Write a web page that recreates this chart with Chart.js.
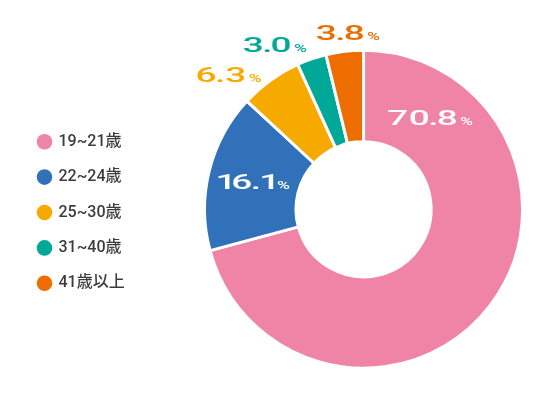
<!DOCTYPE html>
<html lang="ja">
<head>
<meta charset="utf-8">
<title>年齢構成</title>
<script src="https://cdn.jsdelivr.net/npm/chart.js@4/dist/chart.umd.min.js"></script>
<style>
  html, body { margin: 0; padding: 0; background: #fff; }
  #wrap { width: 560px; height: 420px; position: relative; }
</style>
</head>
<body>
<div id="wrap"><canvas id="age-chart"></canvas></div>
<script>
(function () {
  'use strict';

  var AGE_GROUPS = ['19~21歳', '22~24歳', '25~30歳', '31~40歳', '41歳以上'];
  var SHARES     = [70.8, 16.1, 6.3, 3.0, 3.8];

  var PALETTE = ['#f084a7', '#3171b9', '#f6aa00', '#00a997', '#ee6d00'];

  var NUM_FONT = '500 20px Roboto, sans-serif';
  var PCT_FONT = '500 11px Roboto, sans-serif';
  var NUM_SX = 1.85, PCT_SX = 1.6;

  // ink box of one glyph, already stretched
  function glyph(ctx, ch, sx) {
    var m = ctx.measureText(ch);
    return { ch: ch, left: m.actualBoundingBoxLeft, w: (m.actualBoundingBoxLeft + m.actualBoundingBoxRight) * sx };
  }

  // wide number + small "%" drawn centred on (cx, cy), glyphs spaced by ink
  function drawValue(ctx, num, cx, cy, color) {
    ctx.save();
    ctx.fillStyle = color;
    ctx.textAlign = 'left';
    ctx.textBaseline = 'alphabetic';

    ctx.font = NUM_FONT;
    var parts = [];
    var total = 0;
    num.split('').forEach(function (ch, i) {
      var g = glyph(ctx, ch, NUM_SX);
      if (i > 0) total += (ch === '.' || num[i - 1] === '.') ? 1 : 3;
      g.pos = total;
      total += g.w;
      parts.push(g);
    });
    ctx.font = PCT_FONT;
    var pct = glyph(ctx, '%', PCT_SX);
    total += 3;
    pct.pos = total;
    total += pct.w;

    var x0 = cx - total / 2;
    var base = cy + 7;

    ctx.font = NUM_FONT;
    parts.forEach(function (g) {
      ctx.save();
      ctx.translate(x0 + g.pos, base);
      ctx.scale(NUM_SX, 1);
      ctx.fillText(g.ch, g.left, 0);
      ctx.restore();
    });

    ctx.font = PCT_FONT;
    ctx.save();
    ctx.translate(x0 + pct.pos, base);
    ctx.scale(PCT_SX, 1);
    ctx.fillText('%', pct.left, 0);
    ctx.restore();

    ctx.restore();
  }

  var valueLabels = {
    id: 'valueLabels',
    afterDatasetsDraw: function (chart, args, opts) {
      var ctx = chart.ctx;
      var meta = chart.getDatasetMeta(0);
      meta.data.forEach(function (arc, i) {
        var p = arc.getProps(['x', 'y', 'startAngle', 'endAngle', 'innerRadius', 'outerRadius'], true);
        var v = SHARES[i];
        var inside = v >= 10;
        var ang, r;
        if (inside) {
          // big slice label sits near its start, others at the middle
          ang = v > 50 ? p.startAngle + Math.PI / 5 : (p.startAngle + p.endAngle) / 2;
          r = (p.innerRadius + p.outerRadius) / 2;
        } else {
          ang = (p.startAngle + p.endAngle) / 2;
          r = p.outerRadius + 24;
        }
        var nudge = opts.nudge[i] || [0, 0];
        var cx = p.x + Math.cos(ang) * r + nudge[0];
        var cy = p.y + Math.sin(ang) * r + nudge[1];
        drawValue(ctx, v.toFixed(1), cx, cy, inside ? '#ffffff' : PALETTE[i]);
      });
    }
  };

  // widen the legend column so the doughnut lands right of centre
  var legendWidth = {
    id: 'legendWidth',
    beforeInit: function (chart) {
      var fit = chart.legend.fit;
      chart.legend.fit = function () {
        fit.call(this);
        this.width = Math.max(this.width, 148);
      };
    }
  };

  var canvas = document.getElementById('age-chart');

  new Chart(canvas, {
    type: 'doughnut',
    data: {
      labels: AGE_GROUPS,
      datasets: [{
        data: SHARES,
        backgroundColor: PALETTE,
        borderColor: '#ffffff',
        borderWidth: 3,
        hoverOffset: 0
      }]
    },
    options: {
      responsive: true,
      maintainAspectRatio: false,
      animation: false,
      cutout: '42.5%',
      layout: { padding: { left: 19.1, right: 0, top: 48.7, bottom: 50.3 } },
      plugins: {
        tooltip: { enabled: false },
        legend: {
          position: 'left',
          title: { display: true, text: ' ', padding: 0, font: { size: 5.5 } },
          labels: {
            usePointStyle: true,
            pointStyle: 'circle',
            boxWidth: 12,
            boxHeight: 11,
            padding: 19.4,
            color: '#3c3c3c',
            font: { family: "Roboto, 'Noto Sans CJK JP', sans-serif", size: 16, weight: '500' },
            generateLabels: function (chart) {
              var items = Chart.overrides.doughnut.plugins.legend.labels.generateLabels(chart);
              return items.map(function (it) {
                it.lineWidth = 0;
                it.strokeStyle = it.fillStyle;
                return it;
              });
            }
          }
        },
        valueLabels: {
          nudge: [[0, 0], [0, 0], [-27, 14], [-29, 9], [6, 5.5]]
        }
      }
    },
    plugins: [valueLabels, legendWidth]
  });
})();
</script>
</body>
</html>
